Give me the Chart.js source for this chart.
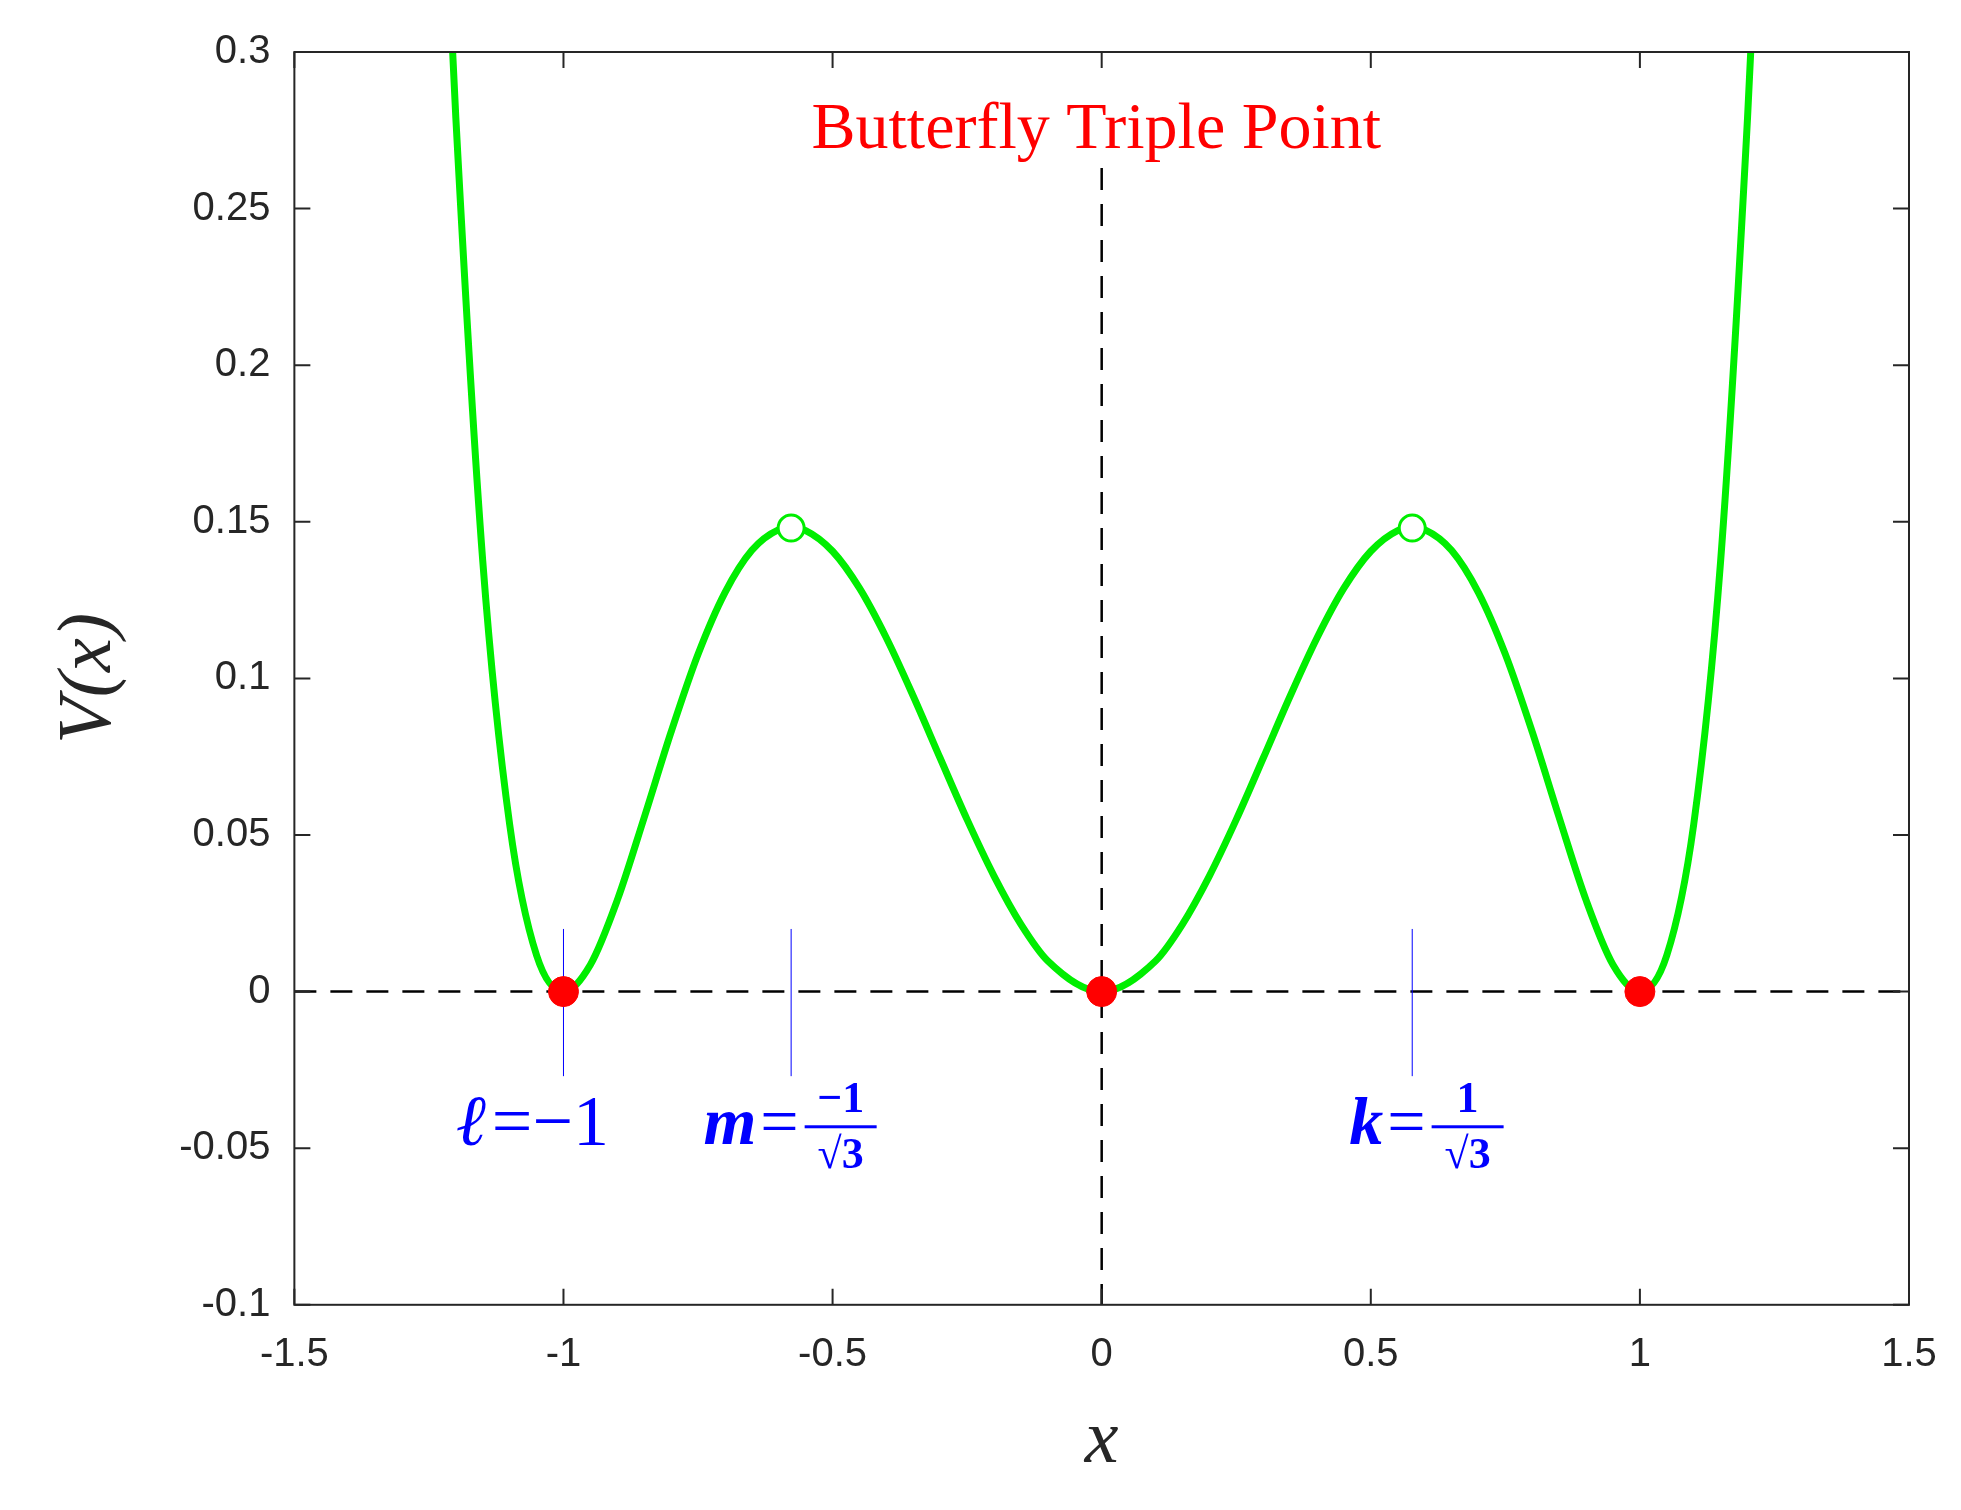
<!DOCTYPE html>
<html><head><meta charset="utf-8">
<script src="https://cdn.jsdelivr.net/npm/chart.js@4"></script>
<style>html,body{margin:0;background:#fff}#w{width:1961px;height:1510px}</style>
</head><body><div id="w"><canvas id="c"></canvas></div>
<script>
const xValues = [-1.21,-1.2,-1.15,-1.1,-1.05,-1,-0.95,-0.9,-0.85,-0.8,-0.75,-0.7,-0.65,-0.6,-0.577,-0.55,-0.5,-0.45,-0.4,-0.35,-0.3,-0.25,-0.2,-0.15,-0.1,0,0.1,0.15,0.2,0.25,0.3,0.35,0.4,0.45,0.5,0.55,0.577,0.6,0.65,0.7,0.75,0.8,0.85,0.9,0.95,1,1.05,1.1,1.15,1.2,1.21];
const vValues = [0.315,0.279,0.1375,0.0534,0.0116,0,0.0086,0.0292,0.0556,0.0829,0.1077,0.1274,0.1409,0.1475,0.1481,0.1472,0.1406,0.1288,0.1129,0.0943,0.0745,0.0549,0.0369,0.0215,0.0098,0,0.0098,0.0215,0.0369,0.0549,0.0745,0.0943,0.1129,0.1288,0.1406,0.1472,0.1481,0.1475,0.1409,0.1274,0.1077,0.0829,0.0556,0.0292,0.0086,0,0.0116,0.0534,0.1375,0.279,0.315];
const minimaX = [-1,0,1], minimaY = [0,0,0];
const maximaX = [-0.577,0.577], maximaY = [0.148,0.148];
const xTicks = [-1.5,-1,-0.5,0,0.5,1,1.5];
const yTicks = [-0.1,-0.05,0,0.05,0.1,0.15,0.2,0.25,0.3];
const markX = [-1,-0.577,0.577];

const overlay = {
  id:'overlay',
  beforeDatasetsDraw(ch){
    const {ctx,scales:{x,y},chartArea:a}=ch;
    ctx.save();
    ctx.strokeStyle='#000';ctx.lineWidth=2.5;ctx.setLineDash([22,14]);
    ctx.beginPath();ctx.moveTo(a.left,y.getPixelForValue(0));ctx.lineTo(a.right,y.getPixelForValue(0));ctx.stroke();
    ctx.beginPath();ctx.moveTo(x.getPixelForValue(0),y.getPixelForValue(0.263));ctx.lineTo(x.getPixelForValue(0),a.bottom);ctx.stroke();
    ctx.setLineDash([]);ctx.strokeStyle='#0000ff';ctx.lineWidth=1;
    markX.forEach(v=>{ctx.beginPath();ctx.moveTo(x.getPixelForValue(v),y.getPixelForValue(0.02));ctx.lineTo(x.getPixelForValue(v),y.getPixelForValue(-0.027));ctx.stroke();});
    ctx.restore();
  },
  afterDraw(ch){
    const {ctx,scales:{x,y},chartArea:a}=ch;
    ctx.save();
    ctx.strokeStyle='#262626';ctx.lineWidth=2;
    ctx.strokeRect(a.left,a.top,a.right-a.left,a.bottom-a.top);
    const L=16;
    xTicks.forEach(v=>{const p=x.getPixelForValue(v);ctx.beginPath();ctx.moveTo(p,a.bottom);ctx.lineTo(p,a.bottom-L);ctx.moveTo(p,a.top);ctx.lineTo(p,a.top+L);ctx.stroke();});
    yTicks.forEach(v=>{const p=y.getPixelForValue(v);ctx.beginPath();ctx.moveTo(a.left,p);ctx.lineTo(a.left+L,p);ctx.moveTo(a.right,p);ctx.lineTo(a.right-L,p);ctx.stroke();});
    ctx.fillStyle='#ff0000';ctx.font='66px "Liberation Serif", "DejaVu Serif", serif';
    ctx.textAlign='center';ctx.textBaseline='middle';
    ctx.fillText('Butterfly Triple Point',x.getPixelForValue(-0.01),y.getPixelForValue(0.275));
    ctx.fillStyle='#0000ff';
    const yb=y.getPixelForValue(-0.043);
    ctx.textAlign='left';ctx.textBaseline='middle';
    ctx.font='italic 72px "Liberation Serif", serif';
    let px=x.getPixelForValue(-1.2);
    ctx.fillText('ℓ',px,yb);
    ctx.font='72px "Liberation Serif", serif';
    ctx.fillText('=−1',px+36,yb);
    function frac(lbl,num,cx){
      ctx.font='italic bold 68px "Liberation Serif", serif';ctx.textAlign='left';
      ctx.fillText(lbl,cx,yb);
      let w=ctx.measureText(lbl).width;
      ctx.font='68px "Liberation Serif", serif';
      ctx.fillText('=',cx+w+4,yb);
      w+=ctx.measureText('=').width+10;
      const fx=cx+w+36;
      ctx.font='bold 44px "Liberation Serif", serif';ctx.textAlign='center';
      ctx.fillText(num,fx,yb-26);
      ctx.fillText('√3',fx,yb+30);
      ctx.fillRect(fx-36,yb-1,72,3);
      ctx.textAlign='left';
    }
    frac('m',String.fromCharCode(8722)+'1',x.getPixelForValue(-0.74));
    frac('k','1',x.getPixelForValue(0.46));
    ctx.restore();
  }
};

const pts=(xs,ys)=>xs.map((v,i)=>({x:v,y:ys[i]}));
new Chart(document.getElementById('c'),{
  type:'scatter',
  data:{datasets:[
    {data:pts(maximaX,maximaY),pointRadius:13,pointBackgroundColor:'#fff',pointBorderColor:'#00ee00',pointBorderWidth:3,showLine:false},
    {data:pts(minimaX,minimaY),pointRadius:15,pointBackgroundColor:'#ff0000',pointBorderColor:'#ff0000',showLine:false},
    {data:pts(xValues,vValues),showLine:true,borderColor:'#00ee00',borderWidth:7,pointRadius:0,cubicInterpolationMode:'monotone'}
  ]},
  options:{
    responsive:true,maintainAspectRatio:false,animation:false,
    layout:{padding:{left:40,right:52,top:52,bottom:18}},
    plugins:{legend:{display:false},tooltip:{enabled:false}},
    scales:{
      x:{type:'linear',min:-1.5,max:1.5,
        afterBuildTicks:s=>{s.ticks=xTicks.map(v=>({value:v}));},
        grid:{display:false},border:{display:false},
        ticks:{color:'#262626',font:{size:40,family:'Liberation Sans, Arial'},padding:18,maxRotation:0,callback:v=>String(v)},
        title:{display:true,text:'x',color:'#262626',font:{size:76,style:'italic',family:'Liberation Serif, serif'},padding:{top:0}}},
      y:{min:-0.1,max:0.3,
        afterBuildTicks:s=>{s.ticks=yTicks.map(v=>({value:v}));},
        grid:{display:false},border:{display:false},
        ticks:{color:'#262626',font:{size:40,family:'Liberation Sans, Arial'},padding:16,callback:v=>String(Math.round(v*100)/100)},
        title:{display:true,text:'V(x)',color:'#262626',font:{size:76,style:'italic',family:'Liberation Serif, serif'},padding:{bottom:28}}}
    }
  },
  plugins:[overlay]
});
</script></body></html>
